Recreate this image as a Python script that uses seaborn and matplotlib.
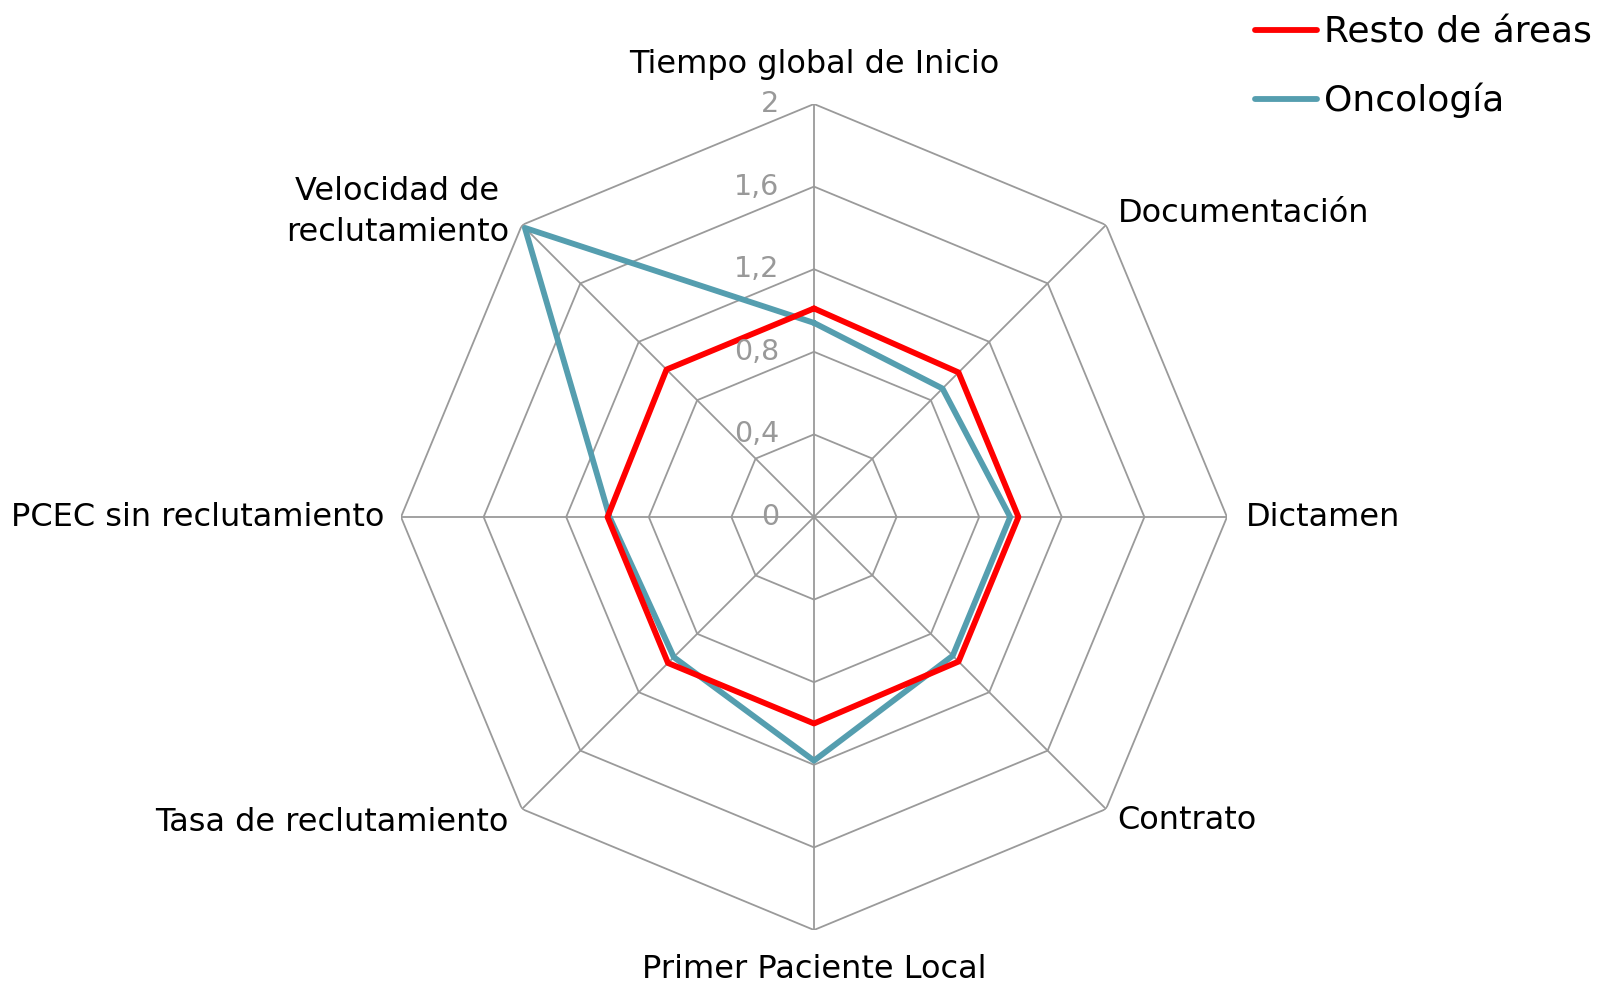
import numpy as np
import pandas as pd
import matplotlib
matplotlib.use("Agg")
import matplotlib.pyplot as plt
import seaborn as sns

categories = ["Tiempo global de Inicio", "Documentación", "Dictamen", "Contrato",
              "Primer Paciente Local", "Tasa de reclutamiento",
              "PCEC sin reclutamiento", "Velocidad de\nreclutamiento"]
resto = [1.01, 0.99, 0.99, 0.99, 1.00, 1.00, 1.00, 1.01]
onco = [0.94, 0.88, 0.95, 0.95, 1.18, 0.96, 0.99, 1.98]
series_names = ["Resto de áreas", "Oncología"]
ticks = [0, 0.4, 0.8, 1.2, 1.6, 2]
tick_labels = ["0", "0,4", "0,8", "1,2", "1,6", "2"]

sns.set_theme(style="white")
plt.rcParams['font.family'] = ['DejaVu Sans']

W, H = 1605, 985
fig = plt.figure(figsize=(W / 100, H / 100), dpi=100)
cx, cy, R = 814, 517, 413
ax = fig.add_axes([(cx - R) / W, (H - cy - R) / H, 2 * R / W, 2 * R / H], projection="polar")
ax.set_theta_zero_location("N")
ax.set_theta_direction(-1)
ax.set_ylim(0, 2)
ax.grid(False)
ax.spines["polar"].set_visible(False)
ax.set_facecolor("white")

n = len(categories)
theta = np.arange(n) * 2 * np.pi / n
theta_c = np.append(theta, 2 * np.pi)

grid_col = "#9a9a9a"
for t in ticks[1:]:
    ax.plot(theta_c, [t] * (n + 1), color=grid_col, lw=1.3, zorder=1)
for th in theta:
    ax.plot([th, th], [0, 2], color=grid_col, lw=1.3, zorder=1)

colors = ["#FF0000", "#559EAF"]
df = pd.DataFrame({
    "theta": np.concatenate([theta_c, theta_c]),
    "value": np.concatenate([np.append(resto, resto[0]), np.append(onco, onco[0])]),
    "serie": [series_names[0]] * (n + 1) + [series_names[1]] * (n + 1),
})
for name, col, z in [(series_names[1], colors[1], 3), (series_names[0], colors[0], 4)]:
    sub = df[df.serie == name]
    sns.lineplot(data=sub, x="theta", y="value", sort=False, estimator=None,
                 color=col, lw=4.2, ax=ax, zorder=z, legend=False)
ax.set_xlabel("")
ax.set_ylabel("")
ax.set_xticks([])
ax.set_yticks([])
ax.set_ylim(0, 2)

# radial tick labels
for t, lab in zip(ticks, tick_labels):
    ax.annotate(lab, xy=(0, t), xytext=(-25, 0), textcoords="offset points",
                ha="right", va="center", fontsize=20.5, color="#999999", zorder=5)

# category labels
label_pos = [(2.19, "center"), (2.08, "left"), (2.09, "left"), (2.08, "left"),
             (2.19, "center"), (2.09, "right"), (2.08, "right"), (2.09, "right")]
for th, lab, (r, ha) in zip(theta, categories, label_pos):
    ax.text(th, r, lab, ha=ha, va="center", fontsize=23, color="black",
            multialignment="center", linespacing=1.4, clip_on=False)

# legend
from matplotlib.lines import Line2D
handles = [Line2D([0], [0], color=c, lw=4.2, solid_capstyle="round") for c in colors]
leg = fig.legend(handles, series_names, loc="upper right", bbox_to_anchor=(1.012, 1.017),
                 frameon=False, fontsize=26, handlelength=1.7, handletextpad=0.2,
                 labelspacing=0.92)
for t in leg.get_texts():
    t.set_color("black")

fig.savefig("out.png", dpi=100, facecolor="white")
